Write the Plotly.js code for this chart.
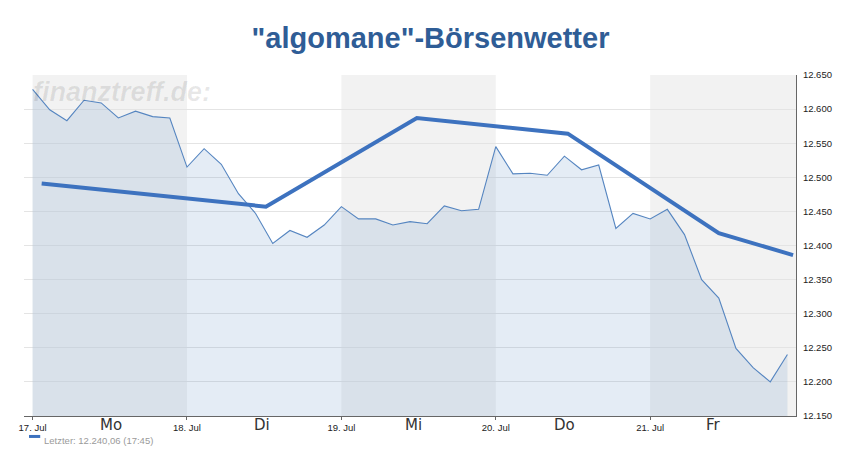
<!DOCTYPE html>
<html>
<head>
<meta charset="utf-8">
<script src="https://cdn.plot.ly/plotly-3.0.1.min.js"></script>
<style>
  html, body { margin: 0; padding: 0; background: #fff; }
  #chart { width: 861px; height: 460px; }
</style>
</head>
<body>
<div id="chart"></div>
<script>
// Intraday quotes (hourly steps, 9 per trading day), 17.–21. Jul
const quotes = [
  12629, 12599, 12583, 12613, 12609, 12587, 12597, 12589, 12587,
  12515, 12542, 12519, 12476, 12447, 12403, 12422, 12412, 12430,
  12457, 12439, 12439, 12430, 12435, 12432, 12458, 12451, 12453,
  12545, 12505, 12506, 12503, 12531, 12511, 12518, 12425, 12447,
  12439, 12453, 12416, 12350, 12323, 12249, 12221, 12200, 12240.06
];
// "Börsenwetter" forecast line
const forecastX = [0.53, 13.6, 22.4, 31.2, 40.0, 44.33];
const forecastY = [12491, 12457, 12587, 12564, 12418, 12386];

// Day boundaries (index of first quote of each day) and labels
const dayStart = [0, 9, 18, 27, 36];
const dateLabels = ['17. Jul', '18. Jul', '19. Jul', '20. Jul', '21. Jul'];
const dayNames = ['Mo', 'Di', 'Mi', 'Do', 'Fr'];
const dayNameX = [4.6, 13.4, 22.2, 31.0, 39.7];
const legendText = 'Letzter: 12.240,06 (17:45)';
const titleText = '"algomane"-Börsenwetter';
const watermark = 'finanztreff.de:';

const quoteX = quotes.map((_, i) => i);

const traces = [
  {
    x: quoteX, y: quotes, type: 'scatter', mode: 'lines',
    fill: 'tozeroy', fillcolor: 'rgba(74,126,187,0.15)',
    line: { color: '#5585c0', width: 1.1 },
    hoverinfo: 'skip', showlegend: false
  },
  {
    x: forecastX, y: forecastY, type: 'scatter', mode: 'lines',
    line: { color: '#3d72bf', width: 4 },
    hoverinfo: 'skip', showlegend: false
  }
];

// alternating grey day bands
const shapes = [];
dayStart.forEach((s, k) => {
  if (k % 2 === 0) {
    const e = k + 1 < dayStart.length ? dayStart[k + 1] : s + 9.5;
    shapes.push({
      type: 'rect', xref: 'x', yref: 'paper', x0: s, x1: e, y0: 0, y1: 1,
      fillcolor: '#f2f2f2', line: { width: 0 }, layer: 'below'
    });
  }
});
// legend marker
shapes.push({
  type: 'line', xref: 'paper', yref: 'paper',
  x0: 0.0065, x1: 0.021, y0: -0.06, y1: -0.06,
  line: { color: '#3d72bf', width: 3 }
});

const annotations = [
  {
    text: '<b><i>' + watermark + '</i></b>', xref: 'paper', yref: 'paper',
    x: 0.009, y: 0.95, xanchor: 'left', yanchor: 'middle', showarrow: false,
    font: { family: 'Liberation Sans, Arial, sans-serif', size: 27, color: 'rgba(0,0,0,0.09)' }
  },
  {
    text: legendText, xref: 'paper', yref: 'paper',
    x: 0.024, y: -0.073, xanchor: 'left', yanchor: 'middle', showarrow: false,
    borderpad: 0,
    font: { family: 'Liberation Sans, Arial, sans-serif', size: 9.5, color: '#9a9a9a' }
  }
];
dayNames.forEach((n, k) => {
  annotations.push({
    text: n, xref: 'x', yref: 'paper', x: dayNameX[k], y: 0,
    xanchor: 'center', yanchor: 'middle', yshift: -9, showarrow: false,
    borderpad: 0,
    font: { family: 'DejaVu Sans, sans-serif', size: 15, color: '#333' }
  });
});

const layout = {
  width: 861, height: 460,
  margin: { l: 24, r: 65, t: 75, b: 44 },
  paper_bgcolor: '#fff', plot_bgcolor: '#fff',
  separators: ',.',
  title: {
    text: '<b>' + titleText + '</b>',
    x: 0.5, xanchor: 'center', xref: 'container',
    y: 0.917, yanchor: 'middle', yref: 'container',
    font: { family: 'Liberation Sans, Arial, sans-serif', size: 29, color: '#2f5d96' }
  },
  showlegend: false,
  xaxis: {
    range: [-0.5, 44.5], showgrid: false, zeroline: false,
    showline: true, linecolor: '#666', linewidth: 1,
    tickvals: dayStart, ticktext: dateLabels,
    ticks: 'outside', ticklen: 3, tickcolor: '#666',
    tickfont: { family: 'Liberation Sans Narrow, Arial, sans-serif', size: 9.5, color: '#222' },
    fixedrange: true
  },
  yaxis: {
    side: 'right', range: [12150, 12650], dtick: 50, tick0: 12150,
    tickformat: ',.0f', showgrid: true, gridcolor: '#e4e4e4', gridwidth: 1,
    zeroline: false, showline: true, linecolor: '#666', linewidth: 1,
    ticks: '', ticklabelstandoff: 4,
    tickfont: { family: 'Liberation Sans, Arial, sans-serif', size: 9.5, color: '#222' },
    fixedrange: true
  },
  shapes: shapes,
  annotations: annotations
};

Plotly.newPlot('chart', traces, layout, { displayModeBar: false, staticPlot: true });
</script>
</body>
</html>
